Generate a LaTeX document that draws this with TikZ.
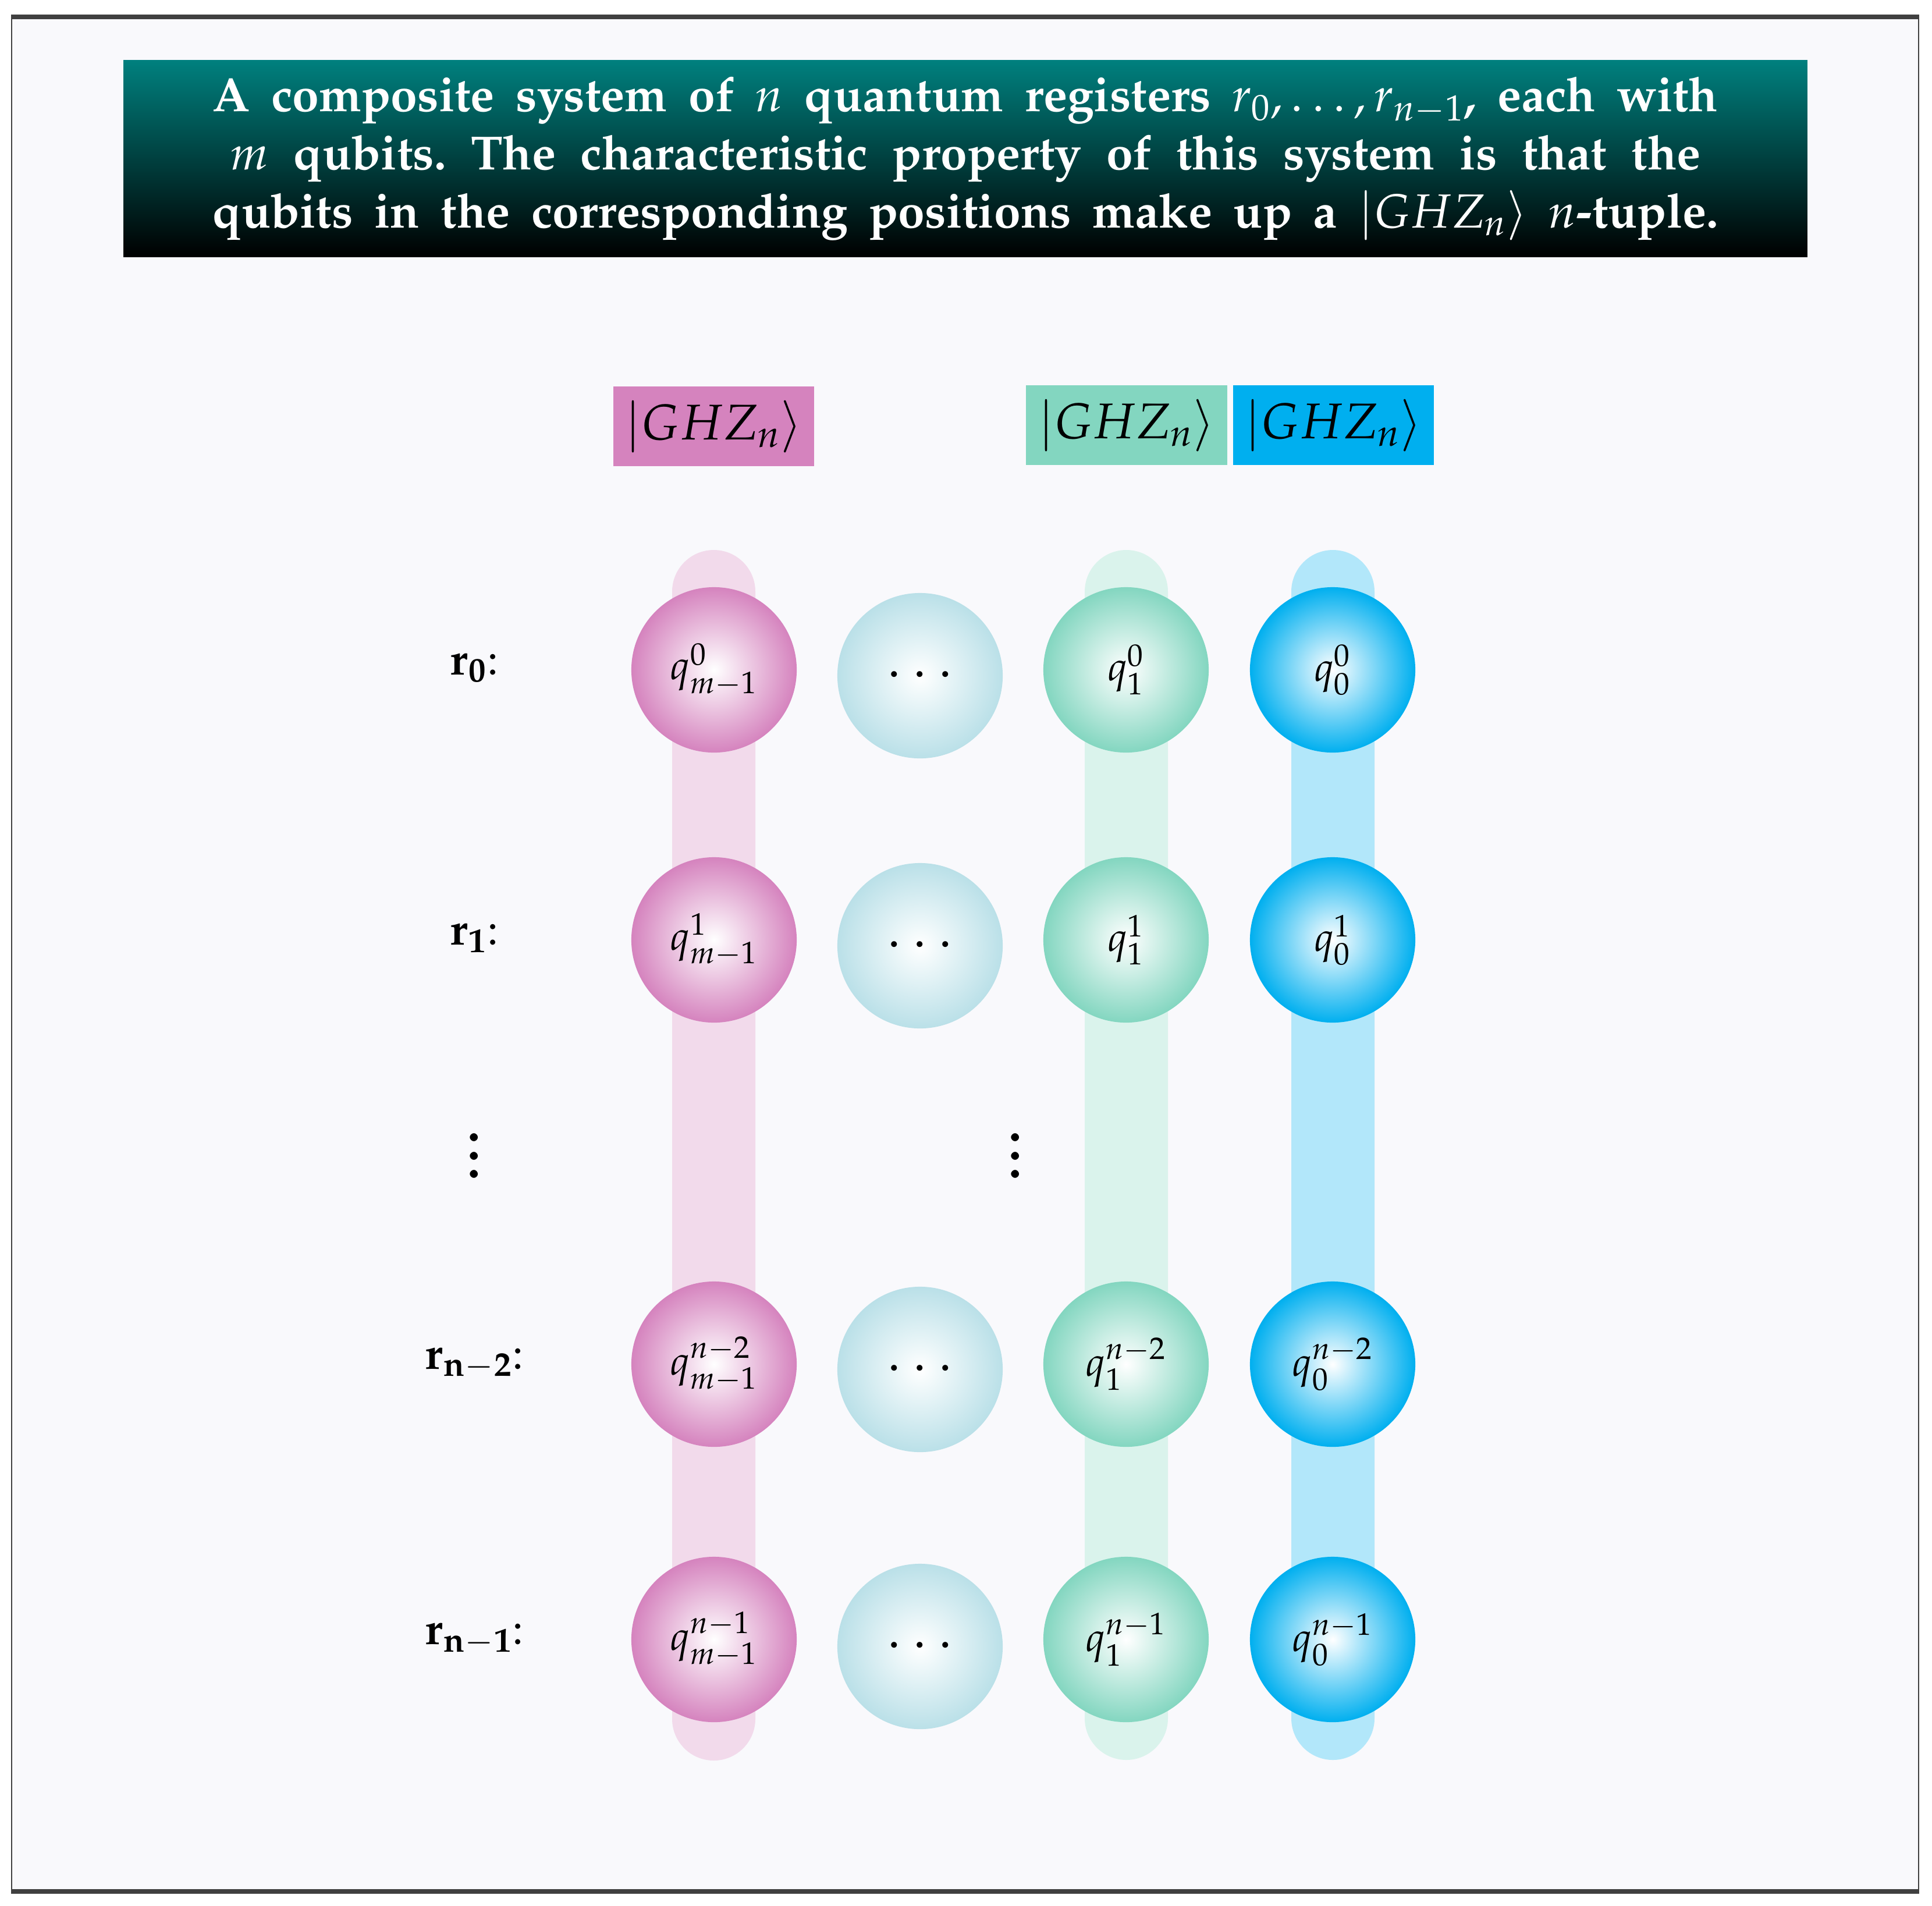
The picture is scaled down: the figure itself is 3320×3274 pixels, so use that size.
\documentclass[tikz,border=0pt]{standalone}
\usepackage[T1]{fontenc}
\usepackage{mathpazo}
\usepackage{graphicx}
\definecolor{pinkc}{RGB}{213,131,190}
\definecolor{greenc}{RGB}{131,214,192}
\definecolor{bluec}{RGB}{0,175,239}
\definecolor{dotc}{RGB}{186,224,232}
\definecolor{bgc}{RGB}{249,249,252}
\definecolor{framec}{RGB}{64,64,64}
\definecolor{tealc}{RGB}{0,128,126}
\newcommand\tline[2]{\makebox[#1][s]{#2}}
\begin{document}
\frenchspacing
\begin{tikzpicture}[x=0.01cm,y=-0.01cm,
  qball/.style={circle,minimum size=2.84cm,inner sep=0pt,inner color=white,outer color=#1,font=\fontsize{20}{24}\selectfont},
  dball/.style={circle,minimum size=2.84cm,inner sep=0pt,inner color=white,outer color=dotc,font=\fontsize{26}{30}\selectfont},
  ghz/.style={fill=#1,minimum width=3.45cm,minimum height=1.37cm,inner sep=0pt,font=\fontsize{24.5}{29}\selectfont},
  reglabel/.style={anchor=mid,font=\fontsize{22}{26}\selectfont},
  pillar/.style={fill=#1!30,rounded corners=0.715cm},
  vdotsnode/.style={inner sep=0pt,rotate=90,font=\bfseries\fontsize{25}{30}\selectfont}]
\useasboundingbox (0,0) rectangle (3320,3274);
% frame
\fill[bgc] (20,29) rectangle (3297,3250);
\draw[framec,line width=0.02cm] (20,29) -- (20,3250) (3297,29) -- (3297,3250);
\draw[framec,line width=0.085cm] (19,29) -- (3298,29) (19,3250) -- (3298,3250);
% title
\node[top color=tealc,bottom color=black,minimum width=28.92cm,minimum height=3.37cm,
  inner sep=0pt,text=white,align=center,font=\bfseries\fontsize{23.4}{28.45}\selectfont]
  (title) at (1659,272.5)
  {\tline{25.85cm}{A composite system of $n$ quantum registers $r_0,\dots,r_{n-1}$, each with}\\
   \tline{25.26cm}{$m$ qubits. The characteristic property of this system is that the}\\
   \tline{25.87cm}{qubits in the corresponding positions make up a $|GHZ_n\rangle$ $n$-tuple.}};
% GHZ labels
\node[ghz=pinkc] (gp) at (1226.5,732.5) {$|GHZ_n\rangle$};
\node[ghz=greenc] (gg) at (1936,730.5) {$|GHZ_n\rangle$};
\node[ghz=bluec] (gb) at (2291.5,730.5) {$|GHZ_n\rangle$};
% pillars
\fill[pillar=pinkc] (1155,945) rectangle (1298,3025);
\fill[pillar=greenc] (1864,945) rectangle (2007,3024);
\fill[pillar=bluec] (2219,945) rectangle (2362,3024);
% register labels
\node[reglabel] (r0) at (815,1151) {$\mathbf{r_0}$:};
\node[reglabel] (r1) at (815,1615) {$\mathbf{r_1}$:};
\node[reglabel] (r2) at (815,2344) {$\mathbf{r_{n-2}}$:};
\node[reglabel] (r3) at (815,2817) {$\mathbf{r_{n-1}}$:};
\node[vdotsnode] (vl) at (815,1986) {.\kern2.6pt.\kern2.6pt.};
\node[vdotsnode] (vm) at (1745,1986) {.\kern2.6pt.\kern2.6pt.};
% row 0
\node[qball=pinkc] (p0) at (1227,1151) {$q^0_{m-1}$};
\node[dball] (d0) at (1581,1161) {$\cdots$};
\node[qball=greenc] (g0) at (1935,1151) {$q^0_1$};
\node[qball=bluec] (b0) at (2290,1151) {$q^0_0$};
% row 1
\node[qball=pinkc] (p1) at (1227,1615) {$q^1_{m-1}$};
\node[dball] (d1) at (1581,1625) {$\cdots$};
\node[qball=greenc] (g1) at (1935,1615) {$q^1_1$};
\node[qball=bluec] (b1) at (2290,1615) {$q^1_0$};
% row n-2
\node[qball=pinkc] (p2) at (1227,2344) {$q^{n-2}_{m-1}$};
\node[dball] (d2) at (1581,2353) {$\cdots$};
\node[qball=greenc] (g2) at (1935,2344) {$q^{n-2}_1$};
\node[qball=bluec] (b2) at (2290,2344) {$q^{n-2}_0$};
% row n-1
\node[qball=pinkc] (p3) at (1227,2817) {$q^{n-1}_{m-1}$};
\node[dball] (d3) at (1581,2829) {$\cdots$};
\node[qball=greenc] (g3) at (1935,2817) {$q^{n-1}_1$};
\node[qball=bluec] (b3) at (2290,2817) {$q^{n-1}_0$};
\end{tikzpicture}
\end{document}
